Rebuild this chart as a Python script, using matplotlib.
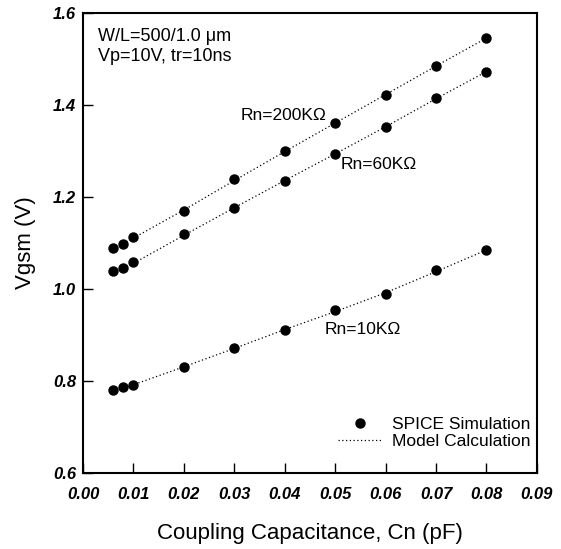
import numpy as np
import matplotlib.pyplot as plt

plt.rcParams['font.family'] = ['Liberation Sans', 'DejaVu Sans']

# coupling capacitance (pF)
cn = [0.006, 0.008, 0.01, 0.02, 0.03, 0.04, 0.05, 0.06, 0.07, 0.08]

# SPICE simulation points
vgsm_200k = [1.089, 1.099, 1.114, 1.170, 1.239, 1.300, 1.361, 1.421, 1.485, 1.546]
vgsm_60k = [1.040, 1.045, 1.058, 1.119, 1.177, 1.236, 1.294, 1.352, 1.415, 1.473]
vgsm_10k = [0.781, 0.788, 0.791, 0.831, 0.872, 0.912, 0.954, 0.989, 1.041, 1.085]

# model calculation curves
model_200k = [1.087, 1.099, 1.111, 1.172, 1.236, 1.299, 1.361, 1.423, 1.485, 1.546]
model_60k = [1.036, 1.046, 1.056, 1.117, 1.177, 1.236, 1.294, 1.353, 1.414, 1.473]
model_10k = [0.779, 0.785, 0.792, 0.831, 0.871, 0.912, 0.951, 0.992, 1.038, 1.085]

xticks = [0.00, 0.01, 0.02, 0.03, 0.04, 0.05, 0.06, 0.07, 0.08, 0.09]
yticks = [0.6, 0.8, 1.0, 1.2, 1.4, 1.6]

fig = plt.figure(figsize=(5.61, 5.49), dpi=100)
ax = fig.add_axes([0.148, 0.1384, 0.809, 0.8376])

dots = (0, (1, 2))
for m in (model_200k, model_60k, model_10k):
    ax.plot(cn, m, color='black', lw=0.9, ls=dots)
for v in (vgsm_200k, vgsm_60k, vgsm_10k):
    ax.plot(cn, v, 'o', color='black', ms=6.5, ls='none')

ax.set_xlim(0, 0.09)
ax.set_ylim(0.6, 1.6)
ax.set_xticks(xticks)
ax.set_yticks(yticks)
ax.set_xticklabels(['%.2f' % t for t in xticks], fontsize=12,
                   fontweight='bold', fontstyle='italic')
ax.set_yticklabels(['%.1f' % t for t in yticks], fontsize=12,
                   fontweight='bold', fontstyle='italic')
ax.tick_params(direction='in', length=7, width=1)
ax.tick_params(axis='x', pad=10)
ax.tick_params(axis='y', pad=5)
for s in ax.spines.values():
    s.set_linewidth(1.5)

ax.set_xlabel('Coupling Capacitance, Cn (pF)', fontsize=16, labelpad=15)
ax.set_ylabel('Vgsm (V)', fontsize=16, labelpad=12)

narrow = ['Liberation Sans Narrow', 'Liberation Sans', 'DejaVu Sans']
ax.text(0.003, 1.549, 'W/L=500/1.0 \u03bcm', fontsize=13, va='center', family=narrow)
ax.text(0.003, 1.506, 'Vp=10V, tr=10ns', fontsize=13, va='center', family=narrow)
ax.text(0.0312, 1.378, 'Rn=200K\u03a9', fontsize=12.5, va='center')
ax.text(0.0510, 1.270, 'Rn=60K\u03a9', fontsize=12.5, va='center')
ax.text(0.0480, 0.912, 'Rn=10K\u03a9', fontsize=12.5, va='center')

# legend
ax.plot([], [], 'o', color='black', ms=6.5, label='SPICE Simulation')
ax.plot([], [], color='black', lw=0.9, ls=dots, label='Model Calculation')
h, l = ax.get_legend_handles_labels()
ax.legend(h[-2:], l[-2:], loc='lower right', frameon=False, fontsize=12.5,
          handlelength=2.5, handletextpad=0.6, labelspacing=0.1,
          borderaxespad=0.3, bbox_to_anchor=(1.013, 0.025))

fig.savefig('out.png', dpi=100)
